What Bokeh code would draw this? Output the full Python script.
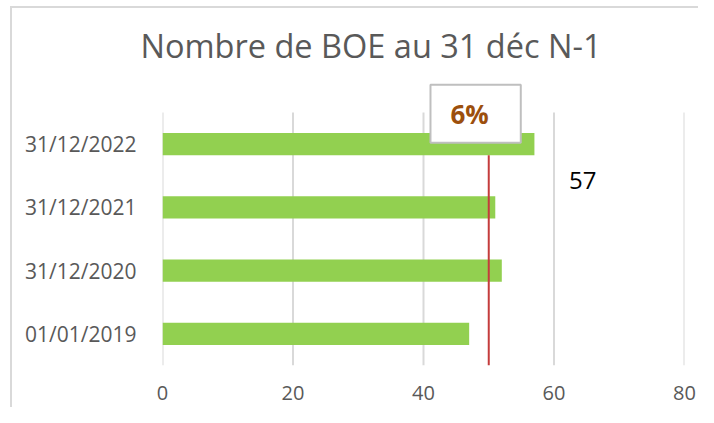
from bokeh.plotting import figure
from bokeh.models import ColumnDataSource, Label, FixedTicker, Range1d
from bokeh.embed import file_html
from bokeh.resources import INLINE

# ---- data ----
categories = ["01/01/2019", "31/12/2020", "31/12/2021", "31/12/2022"]
values = [47, 52, 51, 57]
x_ticks = [0, 20, 40, 60, 80]
title_text = "Nombre de BOE au 31 déc N-1"
target_value = 50
badge_text = "6%"
callout_value = 57

FONT = "Open Sans"
GREY = "#595959"

n = len(categories)
ypos = [i + 0.5 for i in range(n)]

p = figure(
    x_range=Range1d(0, 80), y_range=Range1d(0, 4.585),
    width=698, height=407,
    output_backend="svg", toolbar_location=None,
    min_border_left=162, min_border_right=14,
    min_border_top=75, min_border_bottom=42,
)
p.outline_line_color = None
p.background_fill_color = "white"
p.border_fill_alpha = 0
# light chart-area border (top and left edges), drawn behind the transparent canvas border
p.styles = {
    "background-color": "white",
    "background-image": "linear-gradient(#D9D9D9, #D9D9D9), linear-gradient(#D9D9D9, #D9D9D9)",
    "background-repeat": "no-repeat",
    "background-position": "10px 6px, 10px 6px",
    "background-size": "2px 100%, 100% 2px",
}

# vertical gridlines limited to the category area
p.segment(x0=x_ticks, y0=[0] * len(x_ticks), x1=x_ticks, y1=[n] * len(x_ticks),
          line_color="#D9D9D9", line_width=2)

src = ColumnDataSource(dict(y=ypos, val=values))
p.hbar(y="y", right="val", left=0, height=0.35, source=src,
       fill_color="#92D050", line_color=None)

# target line (drawn over bars, stopping under the top bar)
top_bar_bottom = ypos[-1] - 0.35 / 2
p.segment(x0=[target_value], y0=[0], x1=[target_value], y1=[top_bar_bottom],
          line_color="#C43C3C", line_width=2)

# axes
p.xaxis.ticker = FixedTicker(ticks=x_ticks)
p.xaxis.axis_line_color = None
p.xaxis.major_tick_line_color = None
p.xaxis.minor_tick_line_color = None
p.xaxis.major_label_text_font = FONT
p.xaxis.major_label_text_font_size = "20px"
p.xaxis.major_label_text_color = GREY
p.xaxis.major_label_standoff = 14

p.yaxis.ticker = FixedTicker(ticks=ypos)
p.yaxis.major_label_overrides = {y: c for y, c in zip(ypos, categories)}
p.yaxis.axis_line_color = None
p.yaxis.major_tick_line_color = None
p.yaxis.minor_tick_line_color = None
p.yaxis.major_label_text_font = FONT
p.yaxis.major_label_text_font_size = "21px"
p.yaxis.major_label_text_color = GREY
p.yaxis.major_label_standoff = 20

p.grid.grid_line_color = None

# title
p.title.text = title_text
p.title.align = "left"
p.title.offset = -22
p.title.text_font = FONT
p.title.text_font_size = "32.5px"
p.title.text_font_style = "normal"
p.title.text_color = GREY
p.title.standoff = 16

# badge box
p.add_layout(Label(x=41.07, y=3.98, text=badge_text, text_font=FONT,
                   text_font_size="26px", text_font_style="bold",
                   text_color="#9C4F0D", text_align="left", text_baseline="middle",
                   background_fill_color="white", border_line_color="#BFBFBF",
                   border_line_width=2,
                   padding=dict(top=11, right=32, bottom=11, left=20)))

# callout value
p.add_layout(Label(x=64.4, y=2.92, text=str(callout_value), text_font=FONT,
                   text_font_size="24px", text_color="black",
                   text_align="center", text_baseline="middle"))

open("out.html", "w").write(file_html(p, INLINE))
